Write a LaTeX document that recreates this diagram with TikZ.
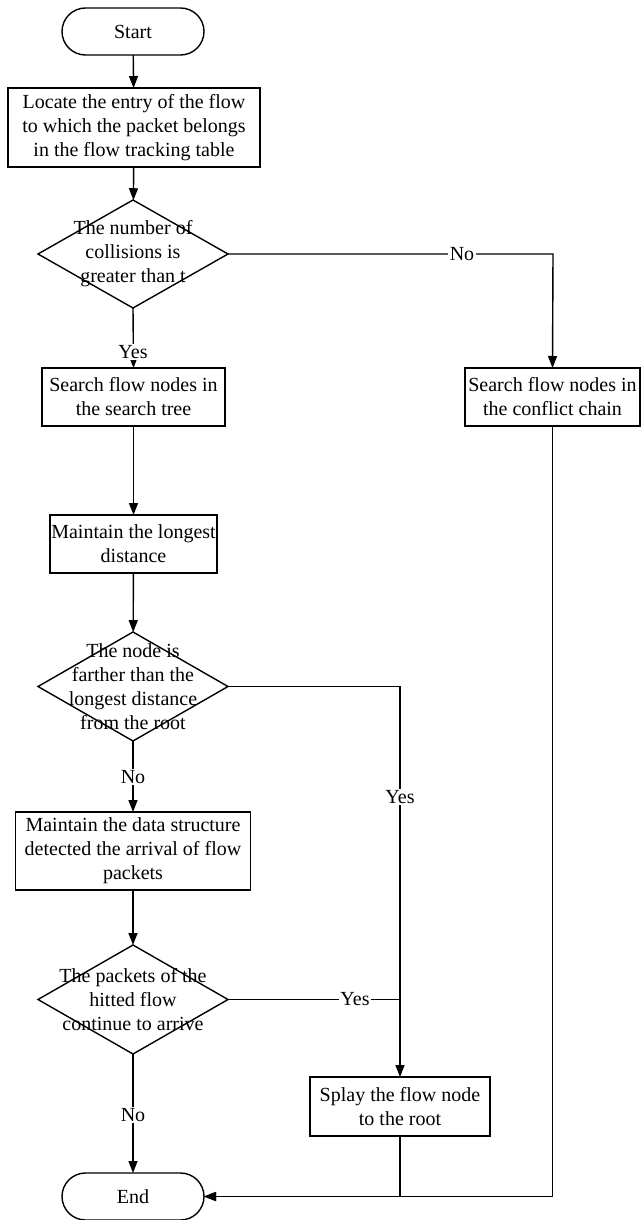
\documentclass[tikz,border=0pt]{standalone}
\usepackage{fontspec}
\setmainfont{Liberation Serif}
\usetikzlibrary{shapes.geometric,arrows.meta}
\begin{document}
\begin{tikzpicture}[x=1pt,y=-1pt,
  font=\fontsize{20}{24}\selectfont,
  line width=1.4pt,
  every node/.style={inner sep=0pt, outer sep=0pt},
  box/.style={draw, rectangle, align=center},
  term/.style={draw, rectangle, rounded corners=23.5pt, minimum width=142pt, minimum height=47pt},
  dia/.style={draw, diamond, minimum width=190pt, minimum height=108pt},
  txt/.style={align=center},
  lbl/.style={fill=white, inner sep=1.5pt},
  arr/.style={-{Triangle[length=12pt,width=9pt]}}
]
\useasboundingbox (0,0) rectangle (641,1220);

\node[term] (start) at (133,31.5) {Start};
\node[box, minimum width=252pt, minimum height=79pt] (b1) at (134,127.5)
  {Locate the entry of the flow\\to which the packet belongs\\in the flow tracking table};
\node[dia] (d1) at (133,254) {};
\node[txt] (d1t) at (133,254) {The number of\\collisions is\\greater than t};
\node[box, minimum width=183pt, minimum height=58pt] (b2) at (133.5,397)
  {Search flow nodes in\\the search tree};
\node[box, minimum width=175pt, minimum height=58pt] (rb) at (552.5,397)
  {Search flow nodes in\\the conflict chain};
\node[box, minimum width=167pt, minimum height=58pt] (b3) at (133.5,544)
  {Maintain the longest\\distance};
\node[dia, minimum height=109pt] (d2) at (133,686.5) {};
\node[txt] (d2t) at (133,686.5) {The node is\\farther than the\\longest distance\\from the root};
\node[box, minimum width=235pt, minimum height=78pt] (b4) at (133,851)
  {Maintain the data structure\\detected the arrival of flow\\packets};
\node[dia, minimum height=109pt] (d3) at (133,999.5) {};
\node[txt] (d3t) at (133,999.5) {The packets of the\\hitted flow\\continue to arrive};
\node[box, minimum width=180pt, minimum height=59pt] (sp) at (400,1106.5)
  {Splay the flow node\\to the root};
\node[term] (end) at (133,1196.5) {End};

\coordinate (c1) at (553,254);
\coordinate (c2) at (400,686.5);
\coordinate (c3) at (400,999.5);

\draw[arr] (start) -- (b1);
\draw[arr] (b1) -- (d1);
\draw[arr] (d1.south) -- (b2.north);
\draw[arr] (d1.east) -- (c1) -- (rb.north);
\draw[arr] (b2) -- (b3);
\draw[arr] (b3) -- (d2);
\draw[arr] (d2.south) -- (b4.north);
\draw[arr] (d2.east) -- (c2) -- (sp.north);
\draw[arr] (b4) -- (d3);
\draw (d3.east) -- (c3);
\draw[arr] (d3.south) -- (end.north);
\draw[arr] (sp.south) |- (end.east);
\draw[arr] (rb.south) |- (end.east);

\node[lbl] (l1) at (462,254) {No};
\node[lbl] (l2) at (133,352) {Yes};
\node[lbl] (l3) at (133,777) {No};
\node[lbl] (l4) at (400,797) {Yes};
\node[lbl] (l5) at (355,999.5) {Yes};
\node[lbl] (l6) at (133,1115) {No};
\end{tikzpicture}
\end{document}
